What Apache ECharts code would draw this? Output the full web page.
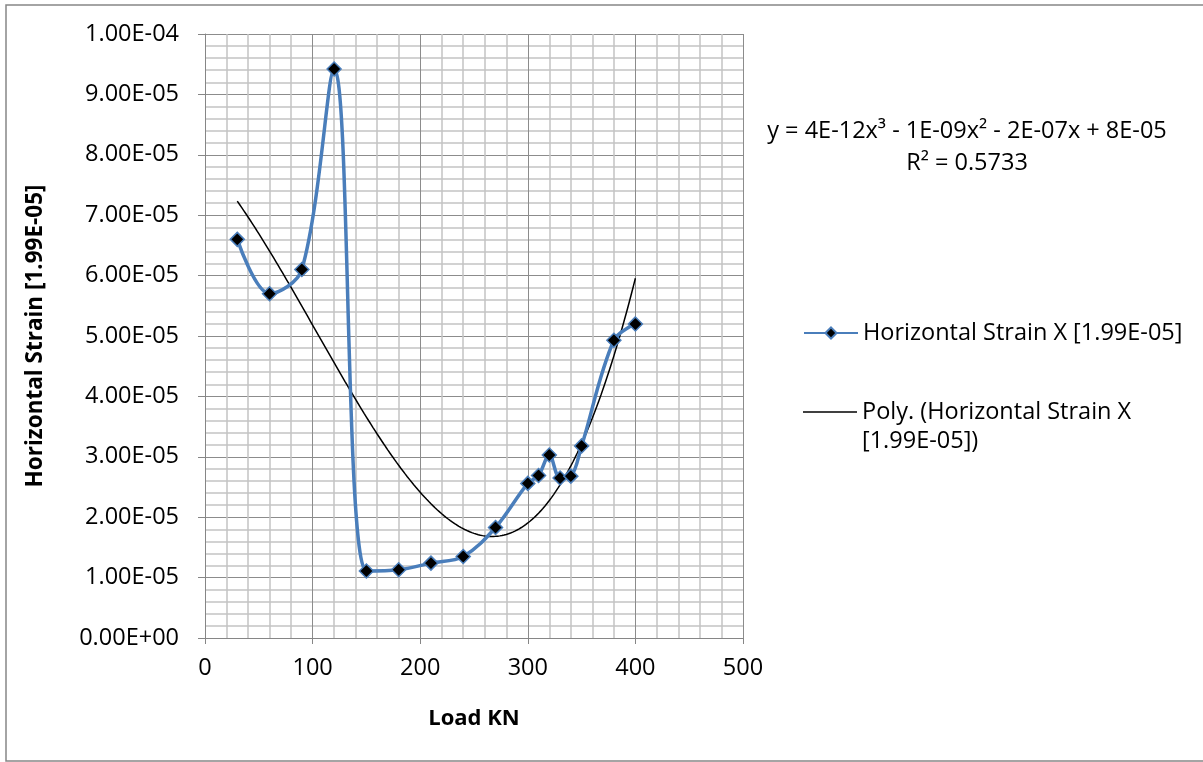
<!DOCTYPE html>
<html>
<head>
<meta charset="utf-8">
<script src="https://cdn.jsdelivr.net/npm/echarts@6/dist/echarts.min.js"></script>
<style>
  html, body { margin: 0; padding: 0; background: #fff; overflow: hidden; }
  #chart { width: 1203px; height: 762px; }
</style>
</head>
<body>
<div id="chart"></div>
<script>
// load (KN) and measured strain
var loads = [30, 60, 90, 120, 150, 180, 210, 240, 270, 300, 310, 320, 330, 340, 350, 380, 400];
var strains = [6.60e-5, 5.70e-5, 6.10e-5, 9.42e-5, 1.11e-5, 1.13e-5, 1.24e-5, 1.35e-5, 1.83e-5,
  2.56e-5, 2.69e-5, 3.03e-5, 2.65e-5, 2.68e-5, 3.18e-5, 4.93e-5, 5.20e-5];
var seriesName = 'Horizontal Strain X [1.99E-05]';
var trendName = 'Poly. (Horizontal Strain X\n[1.99E-05])';
var equationText = 'y = 4E-12x\u00b3 - 1E-09x\u00b2 - 2E-07x + 8E-05';
var r2Text = 'R\u00b2 = 0.5733';

var FONT = '"Open Sans", sans-serif';
var FS = 23.5;

// least squares cubic (x scaled by 1/100)
function cubicFit(xs, ys) {
  var n = 4, A = [], b = [];
  for (var i = 0; i < n; i++) { A.push([0, 0, 0, 0]); b.push(0); }
  for (var k = 0; k < xs.length; k++) {
    var x = xs[k] / 100, y = ys[k] * 1e5;
    for (var i = 0; i < n; i++) {
      for (var j = 0; j < n; j++) A[i][j] += Math.pow(x, i + j);
      b[i] += y * Math.pow(x, i);
    }
  }
  for (var c = 0; c < n; c++) {
    var p = c;
    for (var r = c + 1; r < n; r++) if (Math.abs(A[r][c]) > Math.abs(A[p][c])) p = r;
    var t = A[c]; A[c] = A[p]; A[p] = t; t = b[c]; b[c] = b[p]; b[p] = t;
    for (var r = c + 1; r < n; r++) {
      var f = A[r][c] / A[c][c];
      for (var j = c; j < n; j++) A[r][j] -= f * A[c][j];
      b[r] -= f * b[c];
    }
  }
  var coef = [0, 0, 0, 0];
  for (var i = n - 1; i >= 0; i--) {
    var s = b[i];
    for (var j = i + 1; j < n; j++) s -= A[i][j] * coef[j];
    coef[i] = s / A[i][i];
  }
  return function (xv) {
    var x = xv / 100;
    return (coef[0] + coef[1] * x + coef[2] * x * x + coef[3] * x * x * x) / 1e5;
  };
}

var trendFn = cubicFit(loads, strains);
var trendData = [];
for (var x = loads[0]; x <= loads[loads.length - 1]; x += 2) trendData.push([x, trendFn(x)]);

var pointData = loads.map(function (v, i) { return [v, strains[i]]; });

function sci(v) {
  var parts = v.toExponential(2).split('e');
  var e = parseInt(parts[1], 10);
  var a = Math.abs(e);
  return parts[0] + 'E' + (e < 0 ? '-' : '+') + (a < 10 ? '0' : '') + a;
}

var chart = echarts.init(document.getElementById('chart'));
var option = {
  animation: false,
  backgroundColor: '#fff',
  textStyle: { fontFamily: FONT },
  grid: { left: 205, top: 34, right: 460, bottom: 124, containLabel: false },
  xAxis: {
    type: 'value',
    min: 0, max: 500, interval: 100,
    name: 'Load KN',
    nameLocation: 'middle',
    nameGap: 70,
    nameTextStyle: { fontFamily: FONT, fontSize: 22, fontWeight: 'bold', color: '#000' },
    axisLine: { show: true, lineStyle: { color: '#868686', width: 1 } },
    axisTick: { show: true, length: 6, lineStyle: { color: '#868686' } },
    axisLabel: { fontFamily: FONT, fontSize: FS, color: '#000', margin: 18 },
    splitLine: { show: true, lineStyle: { color: '#8c8c8c', width: 1 } },
    minorTick: { show: false, splitNumber: 5 },
    minorSplitLine: { show: true, lineStyle: { color: '#c4c4c4', width: 1.5 } }
  },
  yAxis: {
    type: 'value',
    min: 0, max: 1e-4, interval: 1e-5,
    name: 'Horizontal Strain [1.99E-05]',
    nameLocation: 'middle',
    nameGap: 158,
    nameTextStyle: { fontFamily: FONT, fontSize: 22.5, fontWeight: 'bold', color: '#000' },
    axisLine: { show: true, lineStyle: { color: '#868686', width: 1 } },
    axisTick: { show: true, length: 7, lineStyle: { color: '#868686' } },
    axisLabel: { fontFamily: FONT, fontSize: FS, color: '#000', margin: 26, formatter: sci },
    splitLine: { show: true, lineStyle: { color: '#8c8c8c', width: 1 } },
    minorTick: { show: false, splitNumber: 5 },
    minorSplitLine: { show: true, lineStyle: { color: '#c4c4c4', width: 1.5 } }
  },
  legend: [{
    data: [seriesName],
    left: 803, top: 321,
    padding: 0,
    itemWidth: 54, itemHeight: 14, itemGap: 5,
    textStyle: { fontFamily: FONT, fontSize: FS, color: '#000' }
  }, {
    data: [{ name: trendName, icon: 'path://M0,0 L54,0 L54,1.5 L0,1.5 Z' }],
    left: 803, top: 400,
    padding: 0,
    itemWidth: 54, itemHeight: 14, itemGap: 5,
    formatter: function (name) { return name.split('\n')[0]; },
    textStyle: { fontFamily: FONT, fontSize: FS, color: '#000' }
  }],
  graphic: [{
    type: 'rect',
    shape: { x: 6, y: 5, width: 1210, height: 756 },
    style: { fill: 'none', stroke: '#868686', lineWidth: 1.5 },
    silent: true, z: -10
  }, {
    type: 'text', x: 967, y: 131,
    style: { text: equationText, fontFamily: FONT, fontSize: FS, fill: '#000', textAlign: 'center', textVerticalAlign: 'middle' }
  }, {
    type: 'text', x: 967, y: 163,
    style: { text: r2Text, fontFamily: FONT, fontSize: FS, fill: '#000', textAlign: 'center', textVerticalAlign: 'middle' }
  }, {
    type: 'text', x: 862, y: 441,
    style: { text: trendName.split('\n')[1], fontFamily: FONT, fontSize: FS, fill: '#000', textAlign: 'left', textVerticalAlign: 'middle' }
  }],
  series: [{
    name: seriesName,
    type: 'line',
    data: pointData,
    smooth: 0.35,
    symbol: 'diamond',
    symbolSize: 14,
    lineStyle: { color: '#4a7ebb', width: 3.5 },
    itemStyle: { color: '#000', borderColor: '#4a7ebb', borderWidth: 1.5 },
    z: 3
  }, {
    name: trendName,
    type: 'line',
    data: trendData,
    symbol: 'none',
    smooth: false,
    lineStyle: { color: '#000', width: 1.5 },
    itemStyle: { color: '#000' },
    z: 2
  }]
};
chart.setOption(option);
</script>
</body>
</html>
